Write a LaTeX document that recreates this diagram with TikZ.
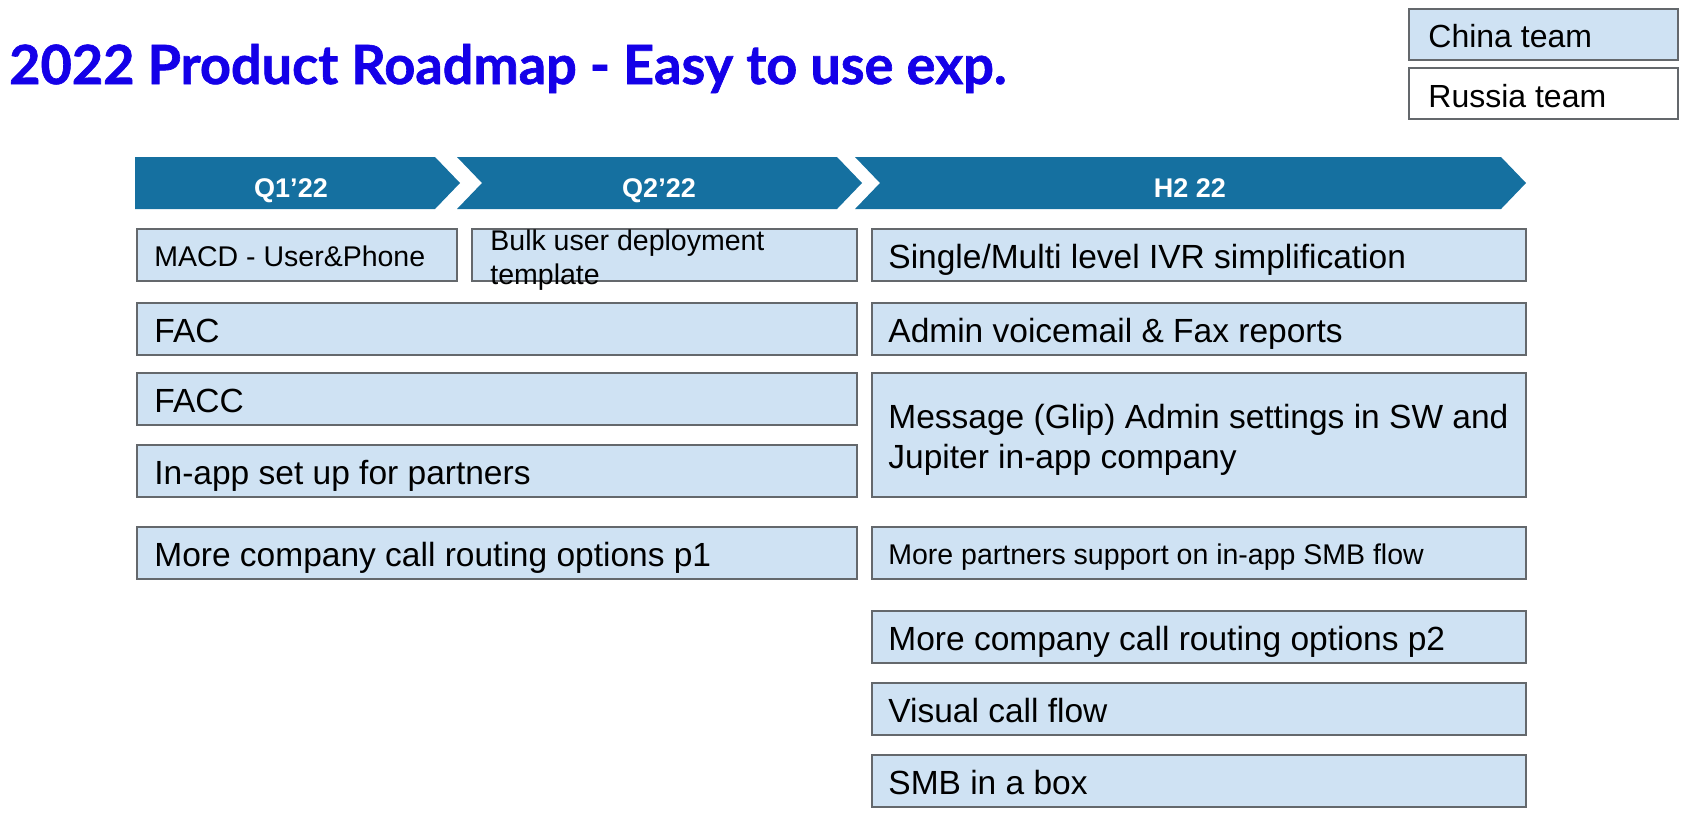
\documentclass[tikz,border=0pt]{standalone}
\usepackage{fontspec}
\setmainfont{Liberation Sans}
\newfontfamily\titlefont{Lato}[BoldFeatures={FakeBold=1.2}]
\definecolor{titleblue}{RGB}{20,0,232}
\definecolor{phase}{RGB}{21,112,160}
\definecolor{itemfill}{RGB}{207,226,243}
\definecolor{itemline}{RGB}{100,104,108}
\tikzset{
  item/.style={draw=itemline, line width=1.6pt, fill=itemfill, inner sep=0pt},
  legendbox/.style={draw=itemline, line width=1.6pt, inner sep=0pt,
    minimum width=269pt, minimum height=51pt},
  itemtext/.style={inner sep=0pt, anchor=base west, text=black,
    font=\fontsize{33.5}{38}\selectfont},
  smalltext/.style={inner sep=0pt, anchor=base west, text=black,
    font=\fontsize{28.5}{33}\selectfont},
  phasebar/.style={fill=phase, draw=none},
  phasetext/.style={inner sep=0pt, anchor=base, text=white,
    font=\bfseries\fontsize{27}{30}\selectfont},
}
\begin{document}
\begin{tikzpicture}[x=1pt, y=-1pt]
\useasboundingbox (0,0) rectangle (1688,820);

% title
\node[inner sep=0pt, anchor=base west, text=titleblue,
  font=\titlefont\bfseries\fontsize{54}{60}\selectfont] (title) at (9,84)
  {2022 Product Roadmap - Easy to use exp.};

% legend
\node[legendbox, fill=itemfill] (china) at (1543.5,34.5) {};
\node[inner sep=0pt, anchor=base west, font=\fontsize{32}{36}\selectfont] (china-t)
  at ([shift={(20pt,-12.5pt)}]china.west) {China team};
\node[legendbox, fill=white] (russia) at (1543.5,93.5) {};
\node[inner sep=0pt, anchor=base west, font=\fontsize{32}{36}\selectfont] (russia-t)
  at ([shift={(20pt,-14pt)}]russia.west) {Russia team};

% phase chevrons
\path[phasebar] (135,157) -- (435,157) -- (460,183) -- (435,209) -- (135,209) -- cycle;
\path[phasebar] (457,157) -- (837,157) -- (862,183) -- (837,209) -- (457,209) -- (482,183) -- cycle;
\path[phasebar] (855,157) -- (1501,157) -- (1526,183) -- (1501,209) -- (855,209) -- (880,183) -- cycle;
\node[phasetext] (q1) at (291,197) {Q1’22};
\node[phasetext] (q2) at (659,197) {Q2’22};
\node[phasetext] (h2) at (1190,197) {H2 22};

% first half items
\node[item, minimum width=320pt, minimum height=52pt] (macd) at (297,255) {};
\node[smalltext] (macd-t) at ([shift={(18pt,-11pt)}]macd.west) {MACD - User\&Phone};
\node[item, minimum width=385pt, minimum height=52pt] (bulk) at (664.5,255) {};
\node[smalltext] (bulk-t1) at ([shift={(19pt,5pt)}]bulk.west) {Bulk user deployment};
\node[smalltext] (bulk-t2) at ([shift={(19pt,-29pt)}]bulk.west) {template};

\node[item, minimum width=720pt, minimum height=52pt] (fac) at (497,329) {};
\node[itemtext] (fac-t) at ([shift={(18pt,-13.5pt)}]fac.west) {FAC};
\node[item, minimum width=720pt, minimum height=52pt] (facc) at (497,399) {};
\node[itemtext] (facc-t) at ([shift={(18pt,-13.5pt)}]facc.west) {FACC};
\node[item, minimum width=720pt, minimum height=52pt] (inapp) at (497,471) {};
\node[itemtext] (inapp-t) at ([shift={(18pt,-13.5pt)}]inapp.west) {In-app set up for partners};
\node[item, minimum width=720pt, minimum height=52pt] (route1) at (497,553) {};
\node[itemtext] (route1-t) at ([shift={(18pt,-13.5pt)}]route1.west) {More company call routing options p1};

% second half items
\node[item, minimum width=654pt, minimum height=52pt] (ivr) at (1199,255) {};
\node[itemtext] (ivr-t) at ([shift={(17pt,-13.5pt)}]ivr.west) {Single/Multi level IVR simplification};
\node[item, minimum width=654pt, minimum height=52pt] (vm) at (1199,329) {};
\node[itemtext] (vm-t) at ([shift={(17pt,-13.5pt)}]vm.west) {Admin voicemail \& Fax reports};
\node[item, minimum width=654pt, minimum height=124pt] (glip) at (1199,435) {};
\node[itemtext] (glip-t1) at ([shift={(17pt,7pt)}]glip.west) {Message (Glip) Admin settings in SW and};
\node[itemtext] (glip-t2) at ([shift={(17pt,-33pt)}]glip.west) {Jupiter in-app company};
\node[item, minimum width=654pt, minimum height=52pt] (smbflow) at (1199,553) {};
\node[smalltext] (smbflow-t) at ([shift={(17pt,-11pt)}]smbflow.west) {More partners support on in-app SMB flow};
\node[item, minimum width=654pt, minimum height=52pt] (route2) at (1199,637) {};
\node[itemtext] (route2-t) at ([shift={(17pt,-13.5pt)}]route2.west) {More company call routing options p2};
\node[item, minimum width=654pt, minimum height=52pt] (visual) at (1199,709) {};
\node[itemtext] (visual-t) at ([shift={(17pt,-13.5pt)}]visual.west) {Visual call flow};
\node[item, minimum width=654pt, minimum height=52pt] (smbbox) at (1199,781) {};
\node[itemtext] (smbbox-t) at ([shift={(17pt,-13.5pt)}]smbbox.west) {SMB in a box};
\end{tikzpicture}
\end{document}
